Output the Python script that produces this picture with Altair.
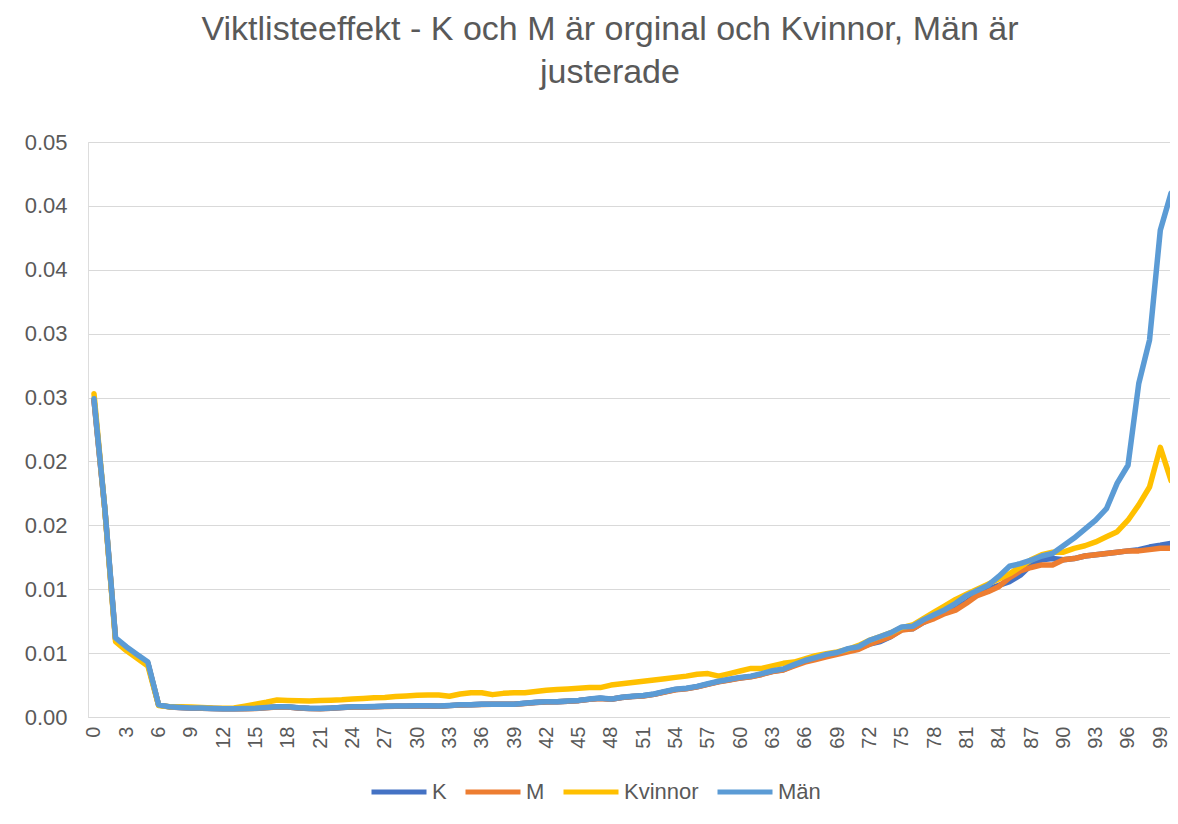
import altair as alt
import pandas as pd

categories = list(range(101))

k_values = [0.0248, 0.0163, 0.0061, 0.0054, 0.0048, 0.0042, 0.00093, 0.00079, 0.00074, 0.0007,
            0.00069, 0.00066, 0.00064, 0.00064, 0.00066, 0.00068, 0.00074, 0.00078, 0.00078, 0.00071,
            0.00067, 0.00066, 0.00069, 0.00074, 0.00078, 0.00079, 0.00081, 0.00084, 0.00085, 0.00085,
            0.00087, 0.00087, 0.00085, 0.00089, 0.00094, 0.00095, 0.00099, 0.00099, 0.00099, 0.00099,
            0.00107, 0.00114, 0.00119, 0.00119, 0.00124, 0.00129, 0.00139, 0.00146, 0.00139, 0.00153,
            0.00161, 0.00166, 0.00178, 0.00197, 0.00215, 0.00222, 0.00237, 0.00257, 0.00277, 0.00292,
            0.00306, 0.00316, 0.00335, 0.00357, 0.0037, 0.00405, 0.0044, 0.0046, 0.0048, 0.0050,
            0.0052, 0.0054, 0.0057, 0.0059, 0.0063, 0.00685, 0.0069, 0.0074, 0.0078, 0.0082,
            0.0085, 0.0090, 0.0096, 0.0100, 0.0103, 0.0106, 0.0111, 0.0119, 0.0123, 0.0124,
            0.0123, 0.0124, 0.0126, 0.0127, 0.0128, 0.0129, 0.0130, 0.0131, 0.0133, 0.01344,
            0.0136]

m_values = [0.0248, 0.0163, 0.0061, 0.0054, 0.0048, 0.0042, 0.00093, 0.00079, 0.00074, 0.0007,
            0.00069, 0.00066, 0.00064, 0.00064, 0.00065, 0.00067, 0.00073, 0.00078, 0.00078, 0.00071,
            0.00067, 0.00065, 0.00069, 0.00074, 0.00078, 0.00079, 0.00081, 0.00083, 0.00085, 0.00085,
            0.00087, 0.00087, 0.00085, 0.00089, 0.00093, 0.00095, 0.00098, 0.00099, 0.00099, 0.00099,
            0.00106, 0.00113, 0.00118, 0.00119, 0.00123, 0.00128, 0.00138, 0.00145, 0.00139, 0.00152,
            0.0016, 0.00165, 0.00177, 0.00196, 0.00213, 0.00221, 0.00236, 0.00255, 0.00275, 0.0029,
            0.00305, 0.00315, 0.00333, 0.00355, 0.00368, 0.0040, 0.0043, 0.0045, 0.0047, 0.0049,
            0.0051, 0.0053, 0.0057, 0.0060, 0.0063, 0.0068, 0.0069, 0.0074, 0.0077, 0.0081,
            0.00836, 0.0089, 0.0095, 0.0098, 0.0102, 0.0109, 0.01143, 0.0117, 0.0119, 0.0119,
            0.0123, 0.0124, 0.0126, 0.0127, 0.0128, 0.0129, 0.0130, 0.0130, 0.0131, 0.0132,
            0.0132]

kvinnor_values = [0.0253, 0.0163, 0.0059, 0.0052, 0.0046, 0.0040, 0.0009, 0.0008, 0.0008, 0.00078,
                  0.00075, 0.0007, 0.00068, 0.0007, 0.00085, 0.001, 0.00115, 0.00133, 0.0013, 0.00128,
                  0.00125, 0.0013, 0.00132, 0.00135, 0.0014, 0.00145, 0.0015, 0.00152, 0.0016, 0.00165,
                  0.0017, 0.00172, 0.00172, 0.00162, 0.0018, 0.0019, 0.0019, 0.00175, 0.00185, 0.0019,
                  0.0019, 0.0020, 0.0021, 0.00215, 0.0022, 0.00225, 0.0023, 0.0023, 0.0025, 0.0026,
                  0.0027, 0.0028, 0.0029, 0.0030, 0.0031, 0.0032, 0.00335, 0.0034, 0.0032, 0.0034,
                  0.0036, 0.0038, 0.0038, 0.0040, 0.0042, 0.0043, 0.00455, 0.0048, 0.00495, 0.0051,
                  0.0053, 0.0056, 0.0060, 0.0063, 0.0066, 0.0070, 0.0072, 0.0077, 0.0082, 0.0087,
                  0.0092, 0.0096, 0.0100, 0.0104, 0.0108, 0.0112, 0.01175, 0.0123, 0.0127, 0.0129,
                  0.0129, 0.0132, 0.0134, 0.0137, 0.0141, 0.0145, 0.0154, 0.0166, 0.0180, 0.0211,
                  0.0185]

man_values = [0.0249, 0.0164, 0.0062, 0.0055, 0.0049, 0.0043, 0.00095, 0.0008, 0.00075, 0.0007,
              0.0007, 0.00067, 0.00065, 0.00065, 0.00066, 0.00068, 0.00075, 0.0008, 0.0008, 0.00072,
              0.00068, 0.00066, 0.0007, 0.00075, 0.0008, 0.0008, 0.00082, 0.00085, 0.00086, 0.00086,
              0.00088, 0.00088, 0.00086, 0.0009, 0.00095, 0.00096, 0.001, 0.001, 0.001, 0.001,
              0.00108, 0.00115, 0.0012, 0.0012, 0.00125, 0.0013, 0.0014, 0.00148, 0.0014, 0.00155,
              0.00163, 0.00168, 0.0018, 0.002, 0.00218, 0.00225, 0.0024, 0.0026, 0.0028, 0.00295,
              0.0031, 0.0032, 0.0034, 0.00362, 0.00375, 0.0041, 0.00442, 0.00465, 0.0049, 0.00505,
              0.00535, 0.0055, 0.0060, 0.0063, 0.0066, 0.00705, 0.0071, 0.0076, 0.0080, 0.0084,
              0.0089, 0.0095, 0.0099, 0.0103, 0.0110, 0.0118, 0.0120, 0.01227, 0.0126, 0.0128,
              0.0134, 0.0140, 0.0147, 0.0154, 0.0163, 0.0183, 0.0197, 0.0261, 0.0295, 0.0381,
              0.0410]

series_names = ["K", "M", "Kvinnor", "Män"]
series_colors = ["#4472C4", "#ED7D31", "#FFC000", "#5B9BD5"]

y_ticks = [0.0, 0.005, 0.01, 0.015, 0.02, 0.025, 0.03, 0.035, 0.04, 0.045]
y_tick_labels = ["0.00", "0.01", "0.01", "0.02", "0.02", "0.03", "0.03", "0.04", "0.04", "0.05"]
x_ticks = [0, 3, 6, 9, 12, 15, 18, 21, 24, 27, 30, 33, 36, 39, 42, 45, 48, 51, 54, 57,
           60, 63, 66, 69, 72, 75, 78, 81, 84, 87, 90, 93, 96, 99]

title_lines = ["Viktlisteeffekt - K och M är orginal och Kvinnor, Män är", "justerade"]

rows = []
for name, vals in zip(series_names, [k_values, m_values, kvinnor_values, man_values]):
    for c, v in zip(categories, vals):
        rows.append({"kat": c, "serie": name, "varde": v})
df = pd.DataFrame(rows)

FONT = "Liberation Sans"
TXT = "#595959"
GRID = "#D9D9D9"

y_label_expr = "[" + ",".join("'%s'" % s for s in y_tick_labels) + "][round(datum.value / 0.005)]"

x_enc = alt.X(
    "kat:Q",
    scale=alt.Scale(domain=[-0.557, 99.9], nice=False, zero=False),
    axis=alt.Axis(
        values=x_ticks, format="d", labelAngle=-90, labelAlign="right", labelBaseline="middle",
        labelPadding=9, ticks=False, domain=True, domainColor=GRID, domainWidth=1,
        grid=False, title=None, labelFontSize=20, labelColor=TXT, labelFont=FONT,
        labelOverlap=False, labelFlush=False, labelBound=False,
    ),
)
y_enc = alt.Y(
    "varde:Q",
    scale=alt.Scale(domain=[0, 0.045], nice=False, zero=True),
    axis=alt.Axis(
        values=y_ticks, labelExpr=y_label_expr, domain=False, ticks=False,
        grid=True, gridColor=GRID, gridWidth=1, labelPadding=21, title=None,
        labelFontSize=22, labelColor=TXT, labelFont=FONT, labelOverlap=False,
    ),
)
color_enc = alt.Color(
    "serie:N",
    scale=alt.Scale(domain=series_names, range=series_colors),
    legend=alt.Legend(
        orient="none", legendX=281, legendY=620, direction="horizontal", title=None,
        symbolType="stroke", symbolSize=3025, symbolStrokeWidth=5,
        labelFontSize=22, labelColor=TXT, labelFont=FONT, columnPadding=8,
        labelOffset=3, padding=0,
    ),
)

base = alt.Chart(df).encode(x=x_enc, y=y_enc, color=color_enc)

layers = [
    base.transform_filter(alt.datum.serie == name).mark_line(
        strokeWidth=5.5, strokeCap="round", strokeJoin="round", clip=True
    )
    for name in series_names
]

chart = (
    alt.layer(*layers)
    .properties(
        width=1082,
        height=575,
        padding={"left": 80, "top": 134, "right": 0, "bottom": 91},
        autosize="none",
        title=alt.TitleParams(
            text=title_lines, fontSize=34, font=FONT, fontWeight="normal", color=TXT,
            anchor="middle", frame="group", offset=41, lineHeight=43, dx=-19,
        ),
    )
    .configure_view(strokeWidth=0, stroke="transparent")
    .configure(font=FONT)
)

chart.save("out.html", embed_options={"renderer": "svg", "actions": False})
